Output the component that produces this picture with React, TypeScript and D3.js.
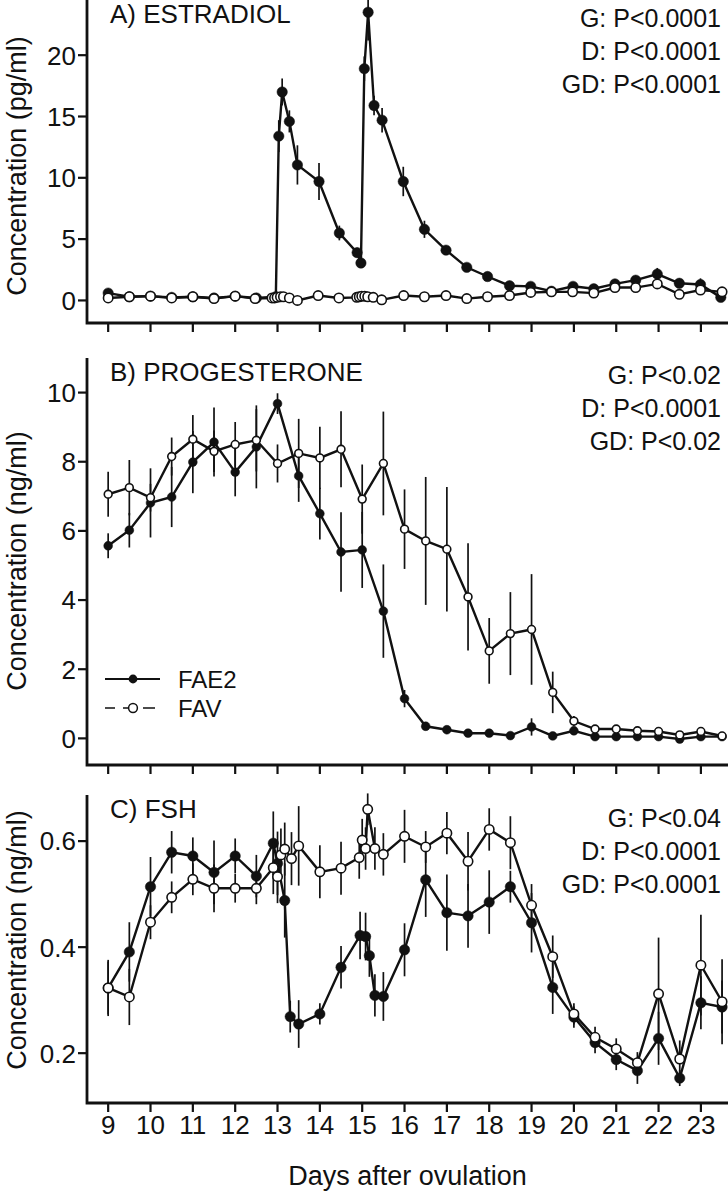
import * as d3 from "d3";

// [day, mean, sem]
type Pt = [number, number, number];

const FONT = "'Liberation Sans', Arial, Helvetica, sans-serif";
const W = 728;
const H = 1199;

const dayTicks = d3.range(9, 24);
const xTitle = "Days after ovulation";
const legendLabels = ["FAE2", "FAV"];

// A) estradiol (pg/ml)
const e2Ticks = [0, 5, 10, 15, 20];
const e2Stats = ["G: P<0.0001", "D: P<0.0001", "GD: P<0.0001"];
const e2FAE2: Pt[] = [
	[9, 0.6, 0.1], [9.5, 0.3, 0.05], [10, 0.35, 0.05], [10.5, 0.25, 0.05], [11, 0.3, 0.05],
	[11.5, 0.2, 0.05], [12, 0.35, 0.05], [12.5, 0.2, 0.05], [12.96, 0.3, 0.05],
	[13.03, 13.4, 1.3], [13.11, 17.0, 1.1], [13.28, 14.6, 0.9], [13.47, 11.05, 1.6],
	[13.98, 9.7, 1.5], [14.46, 5.5, 0.6], [14.88, 3.9, 0.4], [14.97, 3.05, 0.3],
	[15.05, 18.9, 1.0], [15.14, 23.5, 2.3], [15.28, 15.9, 0.8], [15.47, 14.7, 1.0],
	[15.97, 9.7, 1.2], [16.47, 5.8, 0.7], [16.98, 4.1, 0.3], [17.47, 2.7, 0.2],
	[17.96, 1.95, 0.2], [18.48, 1.2, 0.15], [18.98, 1.15, 0.1], [19.47, 0.75, 0.1],
	[19.98, 1.15, 0.1], [20.47, 0.95, 0.1], [20.97, 1.35, 0.15], [21.46, 1.65, 0.2],
	[21.97, 2.15, 0.5], [22.49, 1.4, 0.3], [22.99, 1.3, 0.5], [23.47, 0.25, 0.1],
];
const e2FAV: Pt[] = [
	[9, 0.2, 0.05], [9.5, 0.3, 0.05], [10, 0.35, 0.05], [10.5, 0.2, 0.05], [11, 0.3, 0.05],
	[11.5, 0.15, 0.05], [12, 0.35, 0.05], [12.47, 0.15, 0.05], [12.87, 0.2, 0.05],
	[12.93, 0.2, 0.05], [12.99, 0.25, 0.05], [13.07, 0.3, 0.05], [13.14, 0.3, 0.05],
	[13.28, 0.2, 0.05], [13.47, 0.0, 0.05], [13.96, 0.4, 0.05], [14.45, 0.2, 0.05],
	[14.87, 0.25, 0.05], [14.93, 0.3, 0.05], [14.99, 0.35, 0.05], [15.06, 0.35, 0.05],
	[15.13, 0.3, 0.05], [15.26, 0.25, 0.05], [15.46, 0.05, 0.05], [15.98, 0.4, 0.05],
	[16.47, 0.3, 0.05], [16.98, 0.4, 0.05], [17.47, 0.15, 0.05], [17.96, 0.3, 0.05],
	[18.48, 0.4, 0.05], [18.98, 0.65, 0.05], [19.47, 0.7, 0.05], [19.97, 0.7, 0.05],
	[20.47, 0.6, 0.05], [20.97, 1.05, 0.1], [21.46, 1.05, 0.1], [21.97, 1.35, 0.1],
	[22.49, 0.5, 0.1], [22.99, 0.85, 0.1], [23.5, 0.7, 0.1],
];

// B) progesterone (ng/ml)
const p4Ticks = [0, 2, 4, 6, 8, 10];
const p4Stats = ["G: P<0.02", "D: P<0.0001", "GD: P<0.02"];
const p4FAE2: Pt[] = [
	[9, 5.57, 0.36], [9.5, 6.02, 0.5], [10, 6.81, 1.0], [10.5, 6.98, 0.87], [11, 7.99, 0.9],
	[11.5, 8.57, 1.0], [12, 7.7, 0.7], [12.5, 8.43, 1.2], [13, 9.68, 0.3], [13.5, 7.59, 0.75],
	[14, 6.5, 0.75], [14.5, 5.39, 1.15], [15, 5.45, 1.1], [15.5, 3.68, 1.35], [16, 1.15, 0.25],
	[16.5, 0.35, 0.1], [17, 0.25, 0.08], [17.5, 0.15, 0.05], [18, 0.15, 0.05], [18.5, 0.08, 0.05],
	[19, 0.33, 0.25], [19.5, 0.07, 0.05], [20, 0.22, 0.1], [20.5, 0.05, 0.05], [21, 0.05, 0.05],
	[21.5, 0.05, 0.05], [22, 0.05, 0.05], [22.5, -0.02, 0.05], [23, 0.05, 0.05], [23.5, 0.05, 0.05],
];
const p4FAV: Pt[] = [
	[9, 7.06, 0.65], [9.5, 7.25, 0.8], [10, 6.96, 0.4], [10.5, 8.15, 0.55], [11, 8.65, 0.7],
	[11.5, 8.3, 0.6], [12, 8.5, 0.65], [12.5, 8.62, 0.9], [13, 7.95, 0.55], [13.5, 8.24, 1.0],
	[14, 8.11, 0.9], [14.5, 8.36, 1.1], [15, 6.92, 1.0], [15.5, 7.95, 1.5], [16, 6.05, 1.15],
	[16.5, 5.71, 1.85], [17, 5.47, 1.8], [17.5, 4.09, 1.55], [18, 2.53, 0.95], [18.5, 3.03, 1.2],
	[19, 3.15, 1.6], [19.5, 1.33, 0.6], [20, 0.5, 0.15], [20.5, 0.27, 0.08], [21, 0.27, 0.08],
	[21.5, 0.22, 0.05], [22, 0.2, 0.05], [22.5, 0.1, 0.05], [23, 0.2, 0.05], [23.5, 0.07, 0.05],
];

// C) FSH (ng/ml)
const fshTicks = [0.2, 0.4, 0.6];
const fshStats = ["G: P<0.04", "D: P<0.0001", "GD: P<0.0001"];
const fshFAE2: Pt[] = [
	[9, 0.323, 0.05], [9.5, 0.391, 0.056], [10, 0.514, 0.056], [10.5, 0.579, 0.04],
	[11, 0.572, 0.035], [11.5, 0.541, 0.06], [12, 0.572, 0.033], [12.5, 0.534, 0.04],
	[12.9, 0.596, 0.06], [13.0, 0.558, 0.06], [13.17, 0.488, 0.07], [13.3, 0.269, 0.03],
	[13.5, 0.255, 0.045], [14, 0.274, 0.02], [14.5, 0.362, 0.04], [14.95, 0.422, 0.045],
	[15.08, 0.42, 0.045], [15.17, 0.384, 0.04], [15.3, 0.309, 0.04], [15.5, 0.307, 0.046],
	[16, 0.395, 0.05], [16.5, 0.527, 0.07], [17, 0.465, 0.072], [17.5, 0.459, 0.06],
	[18, 0.485, 0.06], [18.5, 0.514, 0.03], [19, 0.446, 0.056], [19.5, 0.324, 0.05],
	[20, 0.268, 0.02], [20.5, 0.22, 0.02], [21, 0.188, 0.02], [21.5, 0.167, 0.025],
	[22, 0.228, 0.05], [22.5, 0.153, 0.015], [23, 0.295, 0.05], [23.5, 0.287, 0.05],
];
const fshFAV: Pt[] = [
	[9, 0.323, 0.053], [9.5, 0.306, 0.053], [10, 0.447, 0.032], [10.5, 0.494, 0.03],
	[11, 0.528, 0.03], [11.5, 0.511, 0.045], [12, 0.511, 0.027], [12.5, 0.511, 0.03],
	[12.9, 0.55, 0.05], [13.0, 0.533, 0.05], [13.08, 0.574, 0.05], [13.17, 0.585, 0.05],
	[13.33, 0.567, 0.05], [13.5, 0.591, 0.075], [14, 0.542, 0.05], [14.5, 0.549, 0.05],
	[14.93, 0.569, 0.04], [15.0, 0.602, 0.04], [15.08, 0.586, 0.04], [15.13, 0.66, 0.03],
	[15.3, 0.586, 0.04], [15.5, 0.575, 0.04], [16, 0.609, 0.05], [16.5, 0.589, 0.03],
	[17, 0.615, 0.04], [17.5, 0.562, 0.055], [18, 0.622, 0.04], [18.5, 0.597, 0.05],
	[19, 0.479, 0.04], [19.5, 0.382, 0.04], [20, 0.274, 0.02], [20.5, 0.23, 0.02],
	[21, 0.208, 0.02], [21.5, 0.182, 0.02], [22, 0.312, 0.106], [22.5, 0.189, 0.035],
	[23, 0.366, 0.095], [23.5, 0.297, 0.08],
];

const plotLeft = 87;
const plotRight = 728;

const x = d3.scaleLinear().domain([8.5, 23.64]).range([plotLeft, plotRight]);

interface PanelSpec {
	title: string;
	yLabel: string;
	ticks: number[];
	fmt: (v: number) => string;
	stats: string[];
	fae2: Pt[];
	fav: Pt[];
	domain: [number, number];
	top: number;
	bottom: number;
	labelCenter: number;
	statsTop: number;
	r: number;
	legend?: boolean;
	xLabels?: boolean;
}

const panels: PanelSpec[] = [
	{
		title: "A) ESTRADIOL",
		yLabel: "Concentration (pg/ml)",
		ticks: e2Ticks,
		fmt: d3.format("d"),
		stats: e2Stats,
		fae2: e2FAE2,
		fav: e2FAV,
		domain: [-1.84, 24.5],
		top: 0,
		bottom: 323,
		labelCenter: 166,
		statsTop: 27,
		r: 5.2,
	},
	{
		title: "B) PROGESTERONE",
		yLabel: "Concentration (ng/ml)",
		ticks: p4Ticks,
		fmt: d3.format("d"),
		stats: p4Stats,
		fae2: p4FAE2,
		fav: p4FAV,
		domain: [-0.77, 11.0],
		top: 358,
		bottom: 765,
		labelCenter: 561,
		statsTop: 384,
		r: 4.4,
		legend: true,
	},
	{
		title: "C) FSH",
		yLabel: "Concentration (ng/ml)",
		ticks: fshTicks,
		fmt: d3.format(".1f"),
		stats: fshStats,
		fae2: fshFAE2,
		fav: fshFAV,
		domain: [0.106, 0.687],
		top: 795,
		bottom: 1103,
		labelCenter: 940,
		statsTop: 827,
		r: 5.2,
		xLabels: true,
	},
];

function Series({ data, y, filled, r }: { data: Pt[]; y: d3.ScaleLinear<number, number>; filled: boolean; r: number }) {
	const line = d3
		.line<Pt>()
		.x((d) => x(d[0]))
		.y((d) => y(d[1]));
	return (
		<g>
			{data.map((d, i) => (
				<line
					key={`e${i}`}
					x1={x(d[0])}
					x2={x(d[0])}
					y1={y(d[1] - d[2])}
					y2={y(d[1] + d[2])}
					stroke="#111"
					strokeWidth={1.7}
				/>
			))}
			<path d={line(data) ?? ""} fill="none" stroke="#111" strokeWidth={2.4} />
			{data.map((d, i) => (
				<circle
					key={`c${i}`}
					cx={x(d[0])}
					cy={y(d[1])}
					r={filled ? r : r - 0.5}
					fill={filled ? "#111" : "#fff"}
					stroke="#111"
					strokeWidth={filled ? 0.5 : 1.6}
				/>
			))}
		</g>
	);
}

function Panel({ p }: { p: PanelSpec }) {
	const y = d3.scaleLinear().domain(p.domain).range([p.bottom, p.top]);
	return (
		<g>
			{/* axes */}
			<path
				d={`M${plotLeft},${p.top}V${p.bottom}H${plotRight}`}
				fill="none"
				stroke="#111"
				strokeWidth={2.8}
			/>
			{p.ticks.map((t) => (
				<g key={t}>
					<line x1={plotLeft - 9} x2={plotLeft} y1={y(t)} y2={y(t)} stroke="#111" strokeWidth={2.2} />
					<text x={plotLeft - 11} y={y(t)} dy="0.36em" textAnchor="end" fontSize={26}>
						{p.fmt(t)}
					</text>
				</g>
			))}
			{dayTicks.map((d) => (
				<g key={d}>
					<line x1={x(d)} x2={x(d)} y1={p.bottom} y2={p.bottom + 9} stroke="#111" strokeWidth={2.2} />
					{p.xLabels && (
						<text x={x(d)} y={p.bottom + 31} textAnchor="middle" fontSize={26}>
							{d}
						</text>
					)}
				</g>
			))}
			<text
				transform={`translate(26,${p.labelCenter}) rotate(-90)`}
				textAnchor="middle"
				fontSize={27}
			>
				{p.yLabel}
			</text>
			<text x={110} y={p.top + 23} fontSize={26}>
				{p.title}
			</text>
			{p.stats.map((s, i) => (
				<text key={s + i} x={721} y={p.statsTop + i * 33} textAnchor="end" fontSize={25}>
					{s}
				</text>
			))}
			<Series data={p.fae2} y={y} filled r={p.r} />
			<Series data={p.fav} y={y} filled={false} r={p.r} />
			{p.legend && (
				<g>
					<line x1={105} x2={160} y1={679} y2={679} stroke="#111" strokeWidth={2} />
					<circle cx={133} cy={679} r={p.r} fill="#111" />
					<text x={178} y={679} dy="0.36em" fontSize={24}>
						{legendLabels[0]}
					</text>
					<line
						x1={105}
						x2={161}
						y1={708}
						y2={708}
						stroke="#111"
						strokeWidth={1.5}
						strokeDasharray="10,8,10,10,2,0"
					/>
					<circle cx={133} cy={708} r={p.r} fill="#fff" stroke="#111" strokeWidth={1.5} />
					<text x={178} y={708} dy="0.36em" fontSize={24}>
						{legendLabels[1]}
					</text>
				</g>
			)}
		</g>
	);
}

export default function App() {
	return (
		<div style={{ position: "absolute", left: 0, top: 0, width: W, height: H, background: "#fff" }}>
			<svg width={W} height={H} viewBox={`0 0 ${W} ${H}`} style={{ display: "block", fontFamily: FONT }} fill="#111">
				{panels.map((p) => (
					<Panel key={p.title} p={p} />
				))}
				<text x={(plotLeft + plotRight) / 2} y={1185} textAnchor="middle" fontSize={27}>
					{xTitle}
				</text>
			</svg>
		</div>
	);
}
